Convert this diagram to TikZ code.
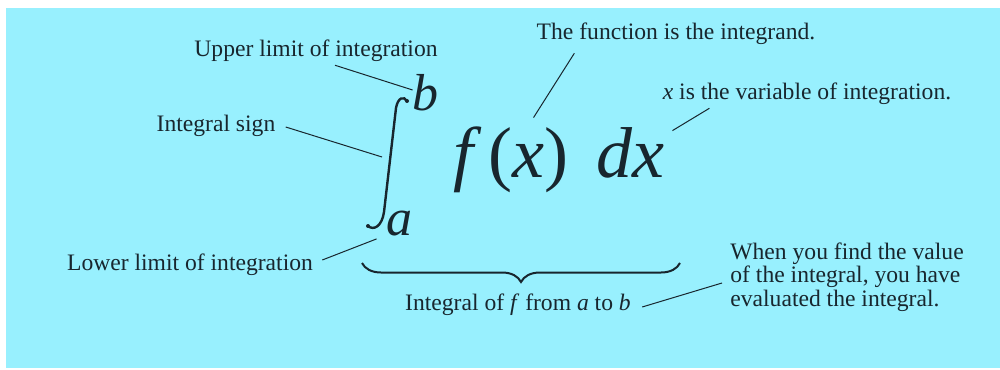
\documentclass[tikz,border=0pt]{standalone}
\usepackage{fontspec}
\setmainfont{Liberation Serif}
\usepackage{tikz}
\usetikzlibrary{positioning, calc, decorations.pathreplacing}
\definecolor{SkyCyan}{HTML}{98F0FE}
\definecolor{InkSlate}{HTML}{18262E}
\tikzset{
    % Label text
    note/.style={
        text=InkSlate,
        inner sep=0pt,
        align=left,
        font=\fontsize{11.8}{11.8}\selectfont
    },
    % Integrand and differential
    bigmath/.style={
        text=InkSlate,
        inner sep=0pt,
        font=\fontsize{36}{36}\selectfont
    },
    % Limits of integration
    limit/.style={
        text=InkSlate,
        inner sep=0pt,
        font=\fontsize{26}{26}\selectfont\itshape
    },
    % Leader line
    leader/.style={
        draw=InkSlate,
        line width=0.5pt
    },
    % Integral sign stroke
    intsign/.style={
        draw=InkSlate,
        line width=1.2pt,
        line cap=round
    },
    % Under brace
    bracestyle/.style={
        decorate,
        decoration={brace, amplitude=9.5pt, mirror},
        draw=InkSlate,
        line width=1pt
    }
}
\begin{document}
\begin{tikzpicture}[x=0.5pt, y=-0.5pt]
        \useasboundingbox (0,0) rectangle (1000,369);
        \fill[SkyCyan] (6,8) rectangle (1000,368);

        % The integral
        \node (fx) [bigmath] at (559,160) {\textit{f}\kern3pt(\textit{x})\kern14pt\textit{dx}};
        \node (b) [limit] at (425,93) {b};
        \node (a) [limit] at (399,224) {a};
        \draw [intsign] (407,101) .. controls (404,96) and (398,97) .. (396,108)
            -- (384,212) .. controls (382,226) and (374,231) .. (368,226);
        \fill [InkSlate] (407,101) circle (2);
        \fill [InkSlate] (368,226) circle (2);
        \coordinate (sigmid) at (382,157);
        \coordinate (braceL) at (362,263);
        \coordinate (braceR) at (680,263);
        \draw [bracestyle] (braceL) -- (braceR);

        % Labels
        \node (upper) [note] at (316,51) {Upper limit of integration};
        \node (sign) [note] at (216,126) {Integral sign};
        \node (lower) [note] at (190,265) {Lower limit of integration};
        \node (integrand) [note] at (676,34) {The function is the integrand.};
        \node (variable) [note] at (807,94) {\textit{x} is the variable of integration.};
        \node (integralof) [note] at (518,305) {Integral of \textit{f} from \textit{a} to \textit{b}};
        \node (evaluated) [note, anchor=west] at (730,277) {When you find the value\\of the integral, you have\\evaluated the integral.};

        \draw [leader] ($(upper.south)+(19,3)$) -- ($(b.west)+(1,-3)$);
        \draw [leader] ($(sign.east)+(10,1)$) -- (sigmid);
        \draw [leader] ($(lower.east)+(9,-5)$) -- ($(a.south west)+(-9,2)$);
        \draw [leader] ($(integrand.south west)+(38,8)$) -- ($(fx.north west)+(80,-9)$);
        \draw [leader] ($(variable.south west)+(47,3)$) -- ($(fx.north east)+(8,4)$);
        \draw [leader] ($(integralof.east)+(11,2)$) -- ($(evaluated.west)+(-8,6)$);
    \end{tikzpicture}
\end{document}
